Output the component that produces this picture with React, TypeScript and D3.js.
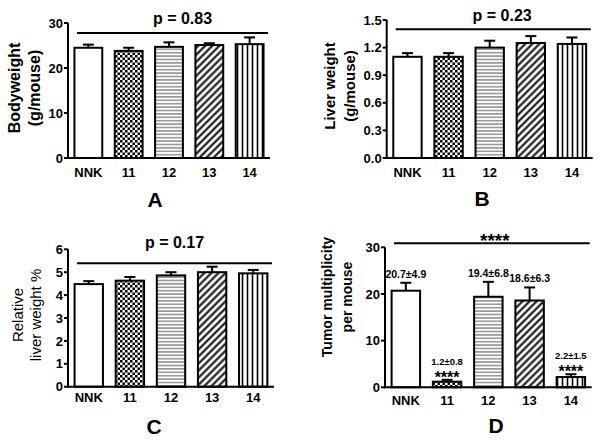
import React from 'react';
import * as d3 from 'd3';

const groups = ['NNK', '11', '12', '13', '14'];

const bodyweightMean = [24.5, 23.8, 24.7, 25.1, 25.3];
const bodyweightErr = [0.7, 0.7, 1.0, 0.4, 1.5];
const bodyweightTicks = [0, 10, 20, 30];

const liverMean = [1.1, 1.1, 1.2, 1.25, 1.24];
const liverErr = [0.04, 0.04, 0.075, 0.075, 0.07];
const liverTicks = [0, 0.3, 0.6, 0.9, 1.2, 1.5];

const relLiverMean = [4.48, 4.63, 4.86, 5.0, 4.95];
const relLiverErr = [0.13, 0.16, 0.14, 0.24, 0.15];
const relLiverTicks = [0, 1, 2, 3, 4, 5, 6];

const tumorMean = [20.7, 1.2, 19.4, 18.6, 2.2];
const tumorErr = [1.7, 0.4, 3.2, 2.8, 0.6];
const tumorTicks = [0, 10, 20, 30];
const tumorLabels = ['20.7±4.9', '1.2±0.8', '19.4±6.8', '18.6±6.3', '2.2±1.5'];
const tumorStars = ['', '****', '', '', '****'];

const pTexts = ['p = 0.83', 'p = 0.23', 'p = 0.17', '****'];
const sigLevels = [27.8, 1.4, 5.39, 30.86];
const panelLetters = ['A', 'B', 'C', 'D'];

const fills = ['white', 'url(#checker)', 'url(#hlines)', 'url(#diag)', 'url(#vlines)'];
const FONT = '"Liberation Sans", Arial, Helvetica, sans-serif';

type PanelProps = {
  means: number[];
  errs: number[];
  ticks: number[];
  fmt: (v: number) => string;
  max: number;
  x0: number; x1: number; yZero: number; yTop: number;
  sig: number; pText: string; pDx: number; pY: number; pSize: number;
  titleLines: string[]; titleX: number[]; titleY: number; titleSize: number; titleWeight: string;
  letter: string; letterX: number; letterY: number;
  catY: number;
  annotations?: boolean;
};

function Panel(p: PanelProps) {
  const x = d3.scaleBand<string>().domain(groups).range([p.x0, p.x1]).paddingInner(0.31).paddingOuter(0.16);
  const y = d3.scaleLinear().domain([0, p.max]).range([p.yZero, p.yTop]);
  const bw = x.bandwidth();
  const sigY = y(p.sig);
  const lx0 = p.x0 + 9;
  const lx1 = p.x1 - 2;
  return (
    <g>
      {groups.map((g, i) => {
        const bx = x(g)!;
        const top = y(p.means[i]);
        const et = y(p.means[i] + p.errs[i]);
        const cx = bx + bw / 2;
        return (
          <g key={g}>
            <line x1={cx} x2={cx} y1={top} y2={et} stroke="black" strokeWidth={2} />
            <line x1={cx - 5.5} x2={cx + 5.5} y1={et} y2={et} stroke="black" strokeWidth={2} />
            <rect x={bx} y={top} width={bw} height={p.yZero - top} fill={fills[i]} stroke="black" strokeWidth={2} />
            <text x={cx} y={p.catY} textAnchor="middle" fontSize={13} fontWeight="bold" fontFamily={FONT}>{g}</text>
            {p.annotations && tumorStars[i] === '' && (
              <text x={cx} y={et - 5} textAnchor="middle" fontSize={10.5} fontWeight="bold" fontFamily={FONT}>{tumorLabels[i]}</text>
            )}
            {p.annotations && tumorStars[i] !== '' && (
              <g>
                <text x={cx} y={et - 15} textAnchor="middle" fontSize={9.5} fontWeight="bold" fontFamily={FONT}>{tumorLabels[i]}</text>
                <text x={cx} y={et + 3} textAnchor="middle" fontSize={16} fontWeight="bold" fontFamily={FONT}>{tumorStars[i]}</text>
              </g>
            )}
          </g>
        );
      })}
      <line x1={p.x0} x2={p.x0} y1={p.yTop} y2={p.yZero + 1} stroke="black" strokeWidth={2} />
      <line x1={p.x0 - 1} x2={p.x1} y1={p.yZero} y2={p.yZero} stroke="black" strokeWidth={2} />
      {p.ticks.map((t) => (
        <g key={t}>
          <line x1={p.x0 - 4} x2={p.x0} y1={y(t)} y2={y(t)} stroke="black" strokeWidth={2} />
          <text x={p.x0 - 5} y={y(t)} dy="0.36em" textAnchor="end" fontSize={13} fontWeight="bold" fontFamily={FONT}>{p.fmt(t)}</text>
        </g>
      ))}
      <line x1={lx0} x2={lx1} y1={sigY} y2={sigY} stroke="black" strokeWidth={2} />
      <text x={(lx0 + lx1) / 2 + p.pDx} y={p.pY} textAnchor="middle" fontSize={p.pSize} fontWeight="bold" fontFamily={FONT}>{p.pText}</text>
      {p.titleLines.map((t, k) => (
        <text key={k} transform={`translate(${p.titleX[k]},${p.titleY}) rotate(-90)`} textAnchor="middle" fontSize={p.titleSize} fontWeight={p.titleWeight} fontFamily={FONT}>{t}</text>
      ))}
      <text x={p.letterX} y={p.letterY} textAnchor="middle" fontSize={21} fontWeight="bold" fontFamily={FONT}>{p.letter}</text>
    </g>
  );
}

export default function App() {
  const fmtInt = (v: number) => d3.format('d')(v);
  const fmt1 = (v: number) => d3.format('.1f')(v);
  return (
    <svg width={604} height={444} style={{ position: 'absolute', left: 0, top: 0, background: 'white' }}>
      <defs>
        <pattern id="checker" patternUnits="userSpaceOnUse" width={5} height={5}>
          <rect width={5} height={5} fill="white" />
          <rect x={0} y={0} width={2.5} height={2.5} fill="black" />
          <rect x={2.5} y={2.5} width={2.5} height={2.5} fill="black" />
        </pattern>
        <pattern id="hlines" patternUnits="userSpaceOnUse" width={6} height={3.4}>
          <rect width={6} height={3.4} fill="white" />
          <line x1={0} x2={6} y1={1.7} y2={1.7} stroke="#666" strokeWidth={1.1} />
        </pattern>
        <pattern id="diag" patternUnits="userSpaceOnUse" width={5} height={5} patternTransform="rotate(45)">
          <rect width={5} height={5} fill="white" />
          <line x1={2.5} x2={2.5} y1={0} y2={5} stroke="black" strokeWidth={2} />
        </pattern>
        <pattern id="vlines" patternUnits="userSpaceOnUse" width={5} height={6}>
          <rect width={5} height={6} fill="white" />
          <line x1={2.5} x2={2.5} y1={0} y2={6} stroke="black" strokeWidth={1.6} />
        </pattern>
      </defs>
      <rect width={604} height={444} fill="white" />
      <Panel means={bodyweightMean} errs={bodyweightErr} ticks={bodyweightTicks} fmt={fmtInt} max={30}
        x0={68} x1={270} yZero={158} yTop={23}
        sig={sigLevels[0]} pText={pTexts[0]} pDx={10} pY={24} pSize={16}
        titleLines={['Bodyweight', '(g/mouse)']} titleX={[20, 39.5]} titleY={88} titleSize={16} titleWeight="bold"
        letter={panelLetters[0]} letterX={155} letterY={207} catY={177} />
      <Panel means={liverMean} errs={liverErr} ticks={liverTicks} fmt={fmt1} max={1.5}
        x0={386.7} x1={592.7} yZero={158} yTop={20}
        sig={sigLevels[1]} pText={pTexts[1]} pDx={9} pY={21} pSize={16}
        titleLines={['Liver weight', '(g/mouse)']} titleX={[335, 355]} titleY={86} titleSize={15} titleWeight="bold"
        letter={panelLetters[1]} letterX={482} letterY={206} catY={177} />
      <Panel means={relLiverMean} errs={relLiverErr} ticks={relLiverTicks} fmt={fmtInt} max={6}
        x0={68} x1={274} yZero={386.7} yTop={249.3}
        sig={sigLevels[2]} pText={pTexts[2]} pDx={0} pY={248.3} pSize={16}
        titleLines={['Relative', 'liver weight %']} titleX={[22.5, 41]} titleY={315} titleSize={15} titleWeight="normal"
        letter={panelLetters[2]} letterX={154} letterY={434} catY={402} />
      <Panel means={tumorMean} errs={tumorErr} ticks={tumorTicks} fmt={fmtInt} max={30}
        x0={385} x1={591.7} yZero={387.3} yTop={247.3}
        sig={sigLevels[3]} pText={pTexts[3]} pDx={3} pY={247} pSize={19}
        titleLines={['Tumor multiplicity', 'per mouse']} titleX={[332, 352]} titleY={297} titleSize={14} titleWeight="bold"
        letter={panelLetters[3]} letterX={496} letterY={433} catY={405} annotations />
    </svg>
  );
}
